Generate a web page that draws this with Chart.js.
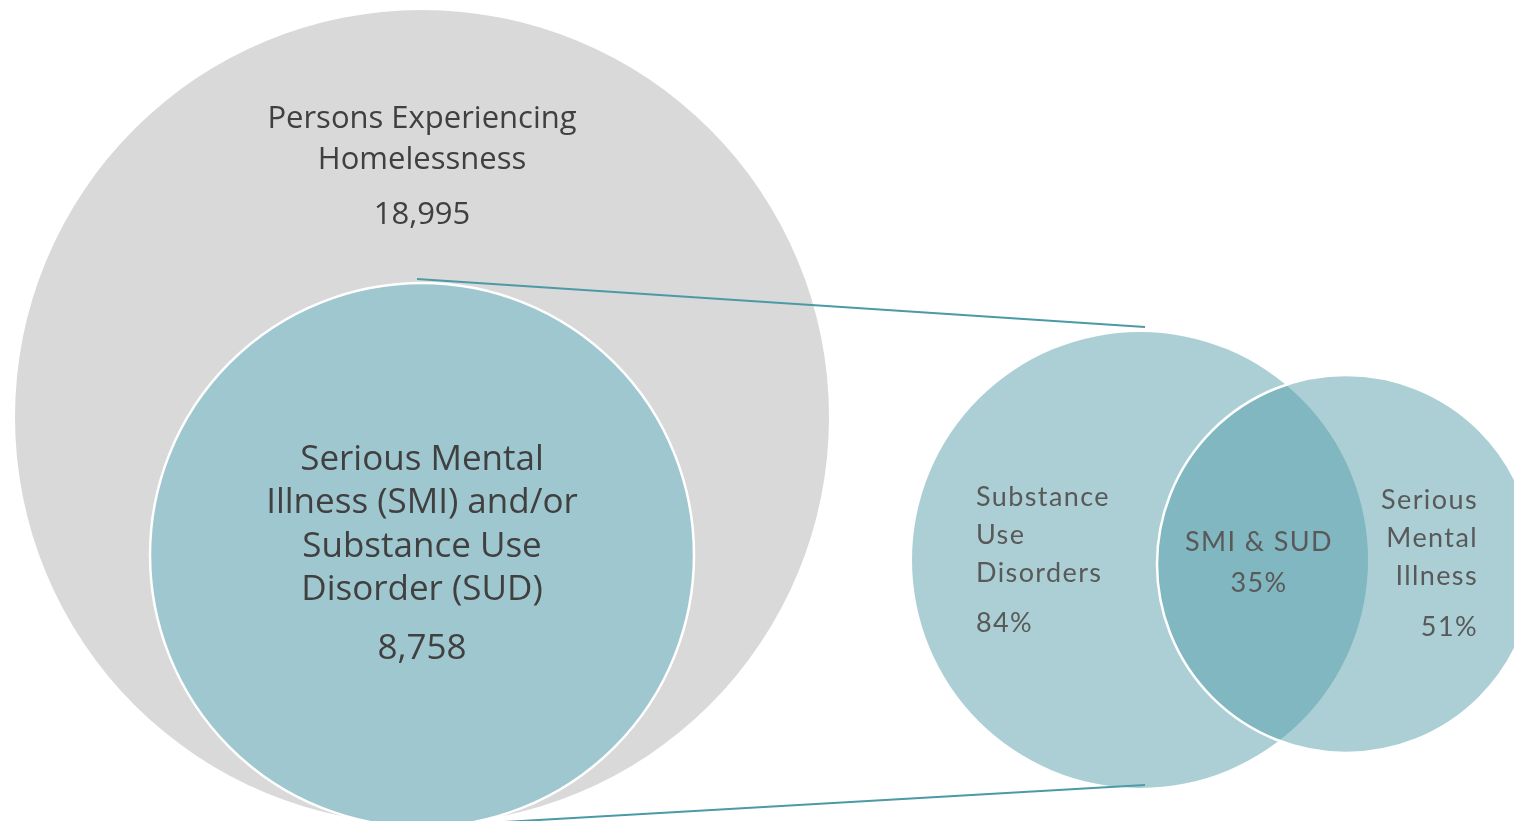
<!DOCTYPE html>
<html><head><meta charset="utf-8">
<script src="https://cdn.jsdelivr.net/npm/chart.js@4/dist/chart.umd.min.js"></script>
<style>html,body{margin:0;padding:0;background:#fff;overflow:hidden;}#wrap{width:1514px;height:821px;position:relative;}</style>
</head><body><div id="wrap"><canvas id="c"></canvas></div>
<script>
// ---- data ----
const totalLabel = ["Persons Experiencing", "Homelessness"];
const totalValue = [18995];
const subsetLabel = ["Serious Mental", "Illness (SMI) and/or", "Substance Use", "Disorder (SUD)"];
const subsetValue = [8758];
const vennLabels = [["Substance", "Use", "Disorders"], ["SMI & SUD"], ["Serious", "Mental", "Illness"]];
const vennPercents = [84, 35, 51];

// ---- layout (data space == pixel space) ----
const L = {
  gray: {x: 422, y: 417, r: 407},
  teal: {x: 422, y: 555, r: 272},
  sud: {x: 1140, y: 560, r: 228},
  smi: {x: 1346, y: 564, r: 189},
  topLine: [{x: 417, y: 279}, {x: 1145, y: 327}],
  botLine: [{x: 400, y: 828}, {x: 1145, y: 785}]
};
const fmt = n => n.toLocaleString('en-US');

const textPlugin = {
  id: 'texts',
  afterDatasetsDraw(chart) {
    const ctx = chart.ctx, xs = chart.scales.x, ys = chart.scales.y;
    const X = v => xs.getPixelForValue(v), Y = v => ys.getPixelForValue(v);
    ctx.save();
    ctx.textBaseline = 'middle';
    ctx.fillStyle = '#404040';
    ctx.textAlign = 'center';
    ctx.font = '31px "Open Sans", sans-serif';
    totalLabel.forEach((t, i) => ctx.fillText(t, X(422), Y(119 + i * 41)));
    ctx.fillText(fmt(totalValue[0]), X(422), Y(215));
    ctx.font = '35px "Open Sans", sans-serif';
    subsetLabel.forEach((t, i) => ctx.fillText(t, X(422), Y(460 + i * 43.3)));
    ctx.fillText(fmt(subsetValue[0]), X(422), Y(649));
    ctx.fillStyle = '#595959';
    ctx.font = '27px Lato, "Open Sans", sans-serif';
    ctx.letterSpacing = '1.4px';
    ctx.textAlign = 'left';
    vennLabels[0].forEach((t, i) => ctx.fillText(t, X(976), Y(497 + i * 38)));
    ctx.fillText(vennPercents[0] + '%', X(976), Y(623));
    ctx.textAlign = 'center';
    vennLabels[1].forEach((t, i) => ctx.fillText(t, X(1259), Y(542 + i * 41)));
    ctx.fillText(vennPercents[1] + '%', X(1259), Y(583));
    ctx.textAlign = 'right';
    vennLabels[2].forEach((t, i) => ctx.fillText(t, X(1478), Y(500 + i * 38)));
    ctx.fillText(vennPercents[2] + '%', X(1478), Y(627));
    ctx.restore();
  }
};

const bubble = (c, color, bw, order) => ({
  type: 'bubble', data: [{x: c.x, y: c.y, r: c.r}], backgroundColor: color,
  borderColor: '#ffffff', borderWidth: bw, hoverBorderWidth: bw, order, clip: false,
  xAxisID: 'x', yAxisID: 'y'
});
const line = (pts, order) => ({
  data: pts, borderColor: '#4b9aa6', borderWidth: 2, pointRadius: 0,
  showLine: true, fill: false, order, clip: false, xAxisID: 'x', yAxisID: 'y'
});

new Chart(document.getElementById('c'), {
  type: 'scatter',
  data: {
    datasets: [
      bubble(L.smi, 'rgba(83,157,169,0.49)', 2.5, 1),
      bubble(L.sud, 'rgba(83,157,169,0.49)', 0, 2),
      line(L.topLine, 3),
      line(L.botLine, 3),
      bubble(L.teal, '#9fc7cf', 2.5, 4),
      bubble(L.gray, '#d9d9d9', 0, 5)
    ]
  },
  options: {
    responsive: true, maintainAspectRatio: false, animation: false, events: [],
    layout: {padding: 0, autoPadding: false},
    plugins: {legend: {display: false}, tooltip: {enabled: false}},
    scales: {
      x: {type: 'linear', axis: 'x', position: 'bottom', min: 0, max: 1514, display: false},
      y: {type: 'linear', axis: 'y', position: 'left', min: 0, max: 821, reverse: true, display: false}
    }
  },
  plugins: [textPlugin]
});
</script></body></html>
